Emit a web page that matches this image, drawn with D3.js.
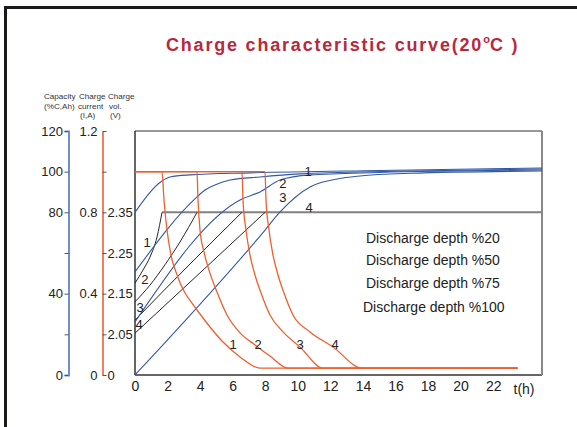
<!DOCTYPE html>
<html><head><meta charset="utf-8">
<script src="https://cdn.jsdelivr.net/npm/d3@7"></script>
<style>
html,body{margin:0;padding:0;background:#fff;}
svg{display:block;font-family:"Liberation Sans",Arial,sans-serif;}
</style></head>
<body>
<svg id="chart" width="577" height="427"></svg>
<script>
// ---------- data ----------
const hourTicks = [0,2,4,6,8,10,12,14,16,18,20,22];
const capacityTicks = [0,20,40,60,80,100,120];
const capacityLabels = ["0","","40","","80","100","120"];
const currentTicks = [0,0.4,0.8,1.2];
const currentLabels = ["0","0.4","0.8","1.2"];
const voltageTicks = [1.95,2.05,2.15,2.25,2.35,2.45,2.55];
const voltageLabels = ["0","2.05","2.15","2.25","2.35","",""];
const depthLabels = ["Discharge depth %20","Discharge depth %50","Discharge depth %75","Discharge depth %100"];
const curveNames = ["1","2","3","4"];

// charge current (I, A) vs t(h)
const current1 = [[0,1],[1.658,1],[1.781,0.861],[1.966,0.713],[2.211,0.590],[2.580,0.492],[3.071,0.403],[3.501,0.354],[3.993,0.300],[4.607,0.236],[5.405,0.162],[6.450,0.089],[7.678,0.034],[23.5,0.034]];
const current2 = [[0,1],[3.808,1],[3.870,0.861],[3.993,0.713],[4.238,0.605],[4.545,0.516],[5.037,0.408],[5.651,0.295],[6.450,0.207],[7.371,0.148],[8.292,0.093],[9.398,0.034],[23.5,0.034]];
const current3 = [[0,1],[6.572,1],[6.634,0.861],[6.818,0.713],[7.064,0.590],[7.371,0.492],[7.740,0.403],[8.292,0.295],[9.091,0.212],[10.135,0.138],[11.548,0.034],[23.5,0.034]];
const current4 = [[0,1],[7.985,1],[8.047,0.861],[8.231,0.713],[8.477,0.590],[8.784,0.492],[9.152,0.403],[9.705,0.295],[10.749,0.212],[12.162,0.138],[13.943,0.034],[23.5,0.034]];

// charged capacity (%C) vs t(h)
const capacity1 = [[0,80],[1.66,95.4],[2.15,97.4],[3.38,98.4],[7.06,99.4],[15,100.6],[25,101.8]];
const capacity2 = [[0,50.7],[3.81,87.6],[4.30,91.0],[4.91,93.5],[5.84,95.9],[7.68,97.4],[10.14,98.9],[16,100.2],[25,101.3]];
const capacity3 = [[0,26.1],[6.57,86.6],[7.68,90.0],[8.91,95.9],[10.75,98.4],[15,99.6],[25,100.8]];
const capacity4 = [[0,0],[7.99,71.3],[8.91,80.2],[10.75,92.5],[12.78,96.9],[13.82,97.9],[16.9,99.2],[25,100.3]];

// charge voltage (V per cell) vs t(h)
const voltage1 = [[0,2.176],[0.49,2.208],[0.92,2.240],[1.35,2.289],[1.66,2.35]];
const voltage2 = [[0,2.130],[0.92,2.171],[1.84,2.221],[2.76,2.277],[3.81,2.35]];
const voltage3 = [[0,2.085],[3.38,2.223],[6.57,2.35]];
const voltage4 = [[0,2.053],[3.99,2.201],[7.99,2.35]];
const constantVoltage = [[1.66,2.35],[25,2.35]];

// curve number annotations (t, value)
const capacityNotes = [[10.63,100.3],[9.09,94.4],[9.09,87.1],[10.69,82.6]];
const currentNotes = [[6.02,0.148],[7.56,0.148],[10.14,0.148],[12.29,0.148]];
const voltageNotes = [[0.74,2.277],[0.61,2.184],[0.31,2.117],[0.25,2.073]];
const depthNotes = [[14.19,67.4],[14.19,56.6],[14.19,45.3],[14.0,33.4]];

// ---------- drawing ----------
const svg = d3.select("#chart");
const L = 135, R = 542, T = 131, B = 375;
const x = d3.scaleLinear().domain([0,25]).range([L,R]);
const yC = d3.scaleLinear().domain([0,120]).range([B,T]);
const yI = d3.scaleLinear().domain([0,1.2]).range([B,T]);
const yV = d3.scaleLinear().domain([1.95,2.55]).range([B,T]);

const orange = "#ef5f2e", blue = "#3358a4", black = "#262626";
const FONT = "Liberation Sans, Arial, sans-serif";

// outer frame
svg.append("line").attr("x1",4).attr("x2",577).attr("y1",7.5).attr("y2",7.5).attr("stroke","#1c1a19").attr("stroke-width",3);
svg.append("line").attr("x1",5.5).attr("x2",5.5).attr("y1",6).attr("y2",427).attr("stroke","#1c1a19").attr("stroke-width",3);

// title
const title = svg.append("text").attr("x",166).attr("y",51)
  .attr("fill","#b8283c").attr("font-weight","bold").attr("font-size",18).attr("letter-spacing",1.8);
title.append("tspan").text("Charge characteristic curve(20");
title.append("tspan").attr("font-size",11).attr("dy",-8).attr("letter-spacing",0).text("o");
title.append("tspan").attr("dy",8).text("C )");

// axis headers
const hdr = svg.append("g").attr("fill","#333").attr("font-size",8.1);
[["Capacity",44,99],["Charge",79,99],["Charge",108,99],
 ["(%C,Ah)",44,108.5],["current",78,108.5],["vol.",109,108.5],
 ["(I,A)",80,118],["(V)",110,118]].forEach(d=>{
  hdr.append("text").attr("x",d[1]).attr("y",d[2]).text(d[0]);
});

// plot box
svg.append("line").attr("x1",L).attr("x2",R).attr("y1",T).attr("y2",T).attr("stroke","#333").attr("stroke-width",1.2);
svg.append("line").attr("x1",L).attr("x2",L).attr("y1",T).attr("y2",B).attr("stroke","#333").attr("stroke-width",1.5);
svg.append("line").attr("x1",L).attr("x2",R).attr("y1",B).attr("y2",B).attr("stroke","#333").attr("stroke-width",1.5);
svg.append("line").attr("x1",R).attr("x2",R).attr("y1",T).attr("y2",B).attr("stroke","#888").attr("stroke-width",2);

// capacity axis
const capAxis = d3.axisLeft(yC).tickValues(capacityTicks).tickSize(4).tickPadding(1.5)
  .tickFormat((d,i)=>capacityLabels[i]);
const gCap = svg.append("g").attr("transform","translate(68.5,0)").call(capAxis);
gCap.select(".domain").attr("stroke","#6f8fc9").attr("stroke-width",2);
gCap.selectAll(".tick line").attr("stroke","#555");
gCap.selectAll(".tick text").attr("font-size",13).attr("fill","#222").attr("font-family",FONT);

// current axis (labels on the left)
const curAxis = d3.axisLeft(yI).tickValues(currentTicks).tickSize(0).tickPadding(5)
  .tickFormat((d,i)=>currentLabels[i]);
const gCur = svg.append("g").attr("transform","translate(102.5,0)").call(curAxis);
gCur.select(".domain").attr("stroke","#f07f62").attr("stroke-width",2);
gCur.selectAll(".tick text").attr("font-size",13).attr("fill","#222").attr("font-family",FONT);

// voltage axis (ticks/labels on the right of the same line)
const volAxis = d3.axisRight(yV).tickValues(voltageTicks).tickSize(4).tickPadding(1)
  .tickFormat((d,i)=>voltageLabels[i]);
const gVol = svg.append("g").attr("transform","translate(102.5,0)").call(volAxis);
gVol.select(".domain").remove();
gVol.selectAll(".tick line").attr("stroke","#555");
gVol.selectAll(".tick text").attr("font-size",13).attr("fill","#222").attr("font-family",FONT);

// x axis labels
const xAxis = d3.axisBottom(x).tickValues(hourTicks).tickSize(0).tickPadding(6).tickFormat(d3.format("d"));
const gx = svg.append("g").attr("transform",`translate(0,${B})`).call(xAxis);
gx.select(".domain").remove();
gx.selectAll(".tick text").attr("font-size",14).attr("fill","#222").attr("font-family",FONT);
svg.append("text").attr("x",x(23.25)).attr("y",B+19).attr("font-size",14).attr("fill","#222").text("t(h)");

// lines
const lineOf = (ys) => d3.line().x(d=>x(d[0])).y(d=>ys(d[1])).curve(d3.curveMonotoneX);
const plot = svg.append("g");
plot.append("path").datum(constantVoltage).attr("d",lineOf(yV)).attr("fill","none").attr("stroke","#808080").attr("stroke-width",2);
[voltage1,voltage2,voltage3,voltage4].forEach(s=>{
  plot.append("path").datum(s).attr("d",lineOf(yV)).attr("fill","none").attr("stroke",black).attr("stroke-width",1);
});
[capacity1,capacity2,capacity3,capacity4].forEach(s=>{
  plot.append("path").datum(s).attr("d",lineOf(yC)).attr("fill","none").attr("stroke",blue).attr("stroke-width",1.1);
});
[current1,current2,current3,current4].forEach(s=>{
  plot.append("path").datum(s).attr("d",lineOf(yI)).attr("fill","none").attr("stroke",orange).attr("stroke-width",1.3);
});

// annotations
const notes = svg.append("g").attr("font-size",13).attr("fill","#222").attr("text-anchor","middle").attr("dominant-baseline","central");
capacityNotes.forEach((d,i)=>notes.append("text").attr("x",x(d[0])).attr("y",yC(d[1])).text(curveNames[i]));
currentNotes.forEach((d,i)=>notes.append("text").attr("x",x(d[0])).attr("y",yI(d[1])).text(curveNames[i]));
voltageNotes.forEach((d,i)=>notes.append("text").attr("x",x(d[0])).attr("y",yV(d[1])).text(curveNames[i]));

const dg = svg.append("g").attr("font-size",14).attr("fill","#222").attr("dominant-baseline","central");
depthNotes.forEach((d,i)=>dg.append("text").attr("x",x(d[0])).attr("y",yC(d[1])).text(depthLabels[i]));
</script>
</body></html>
